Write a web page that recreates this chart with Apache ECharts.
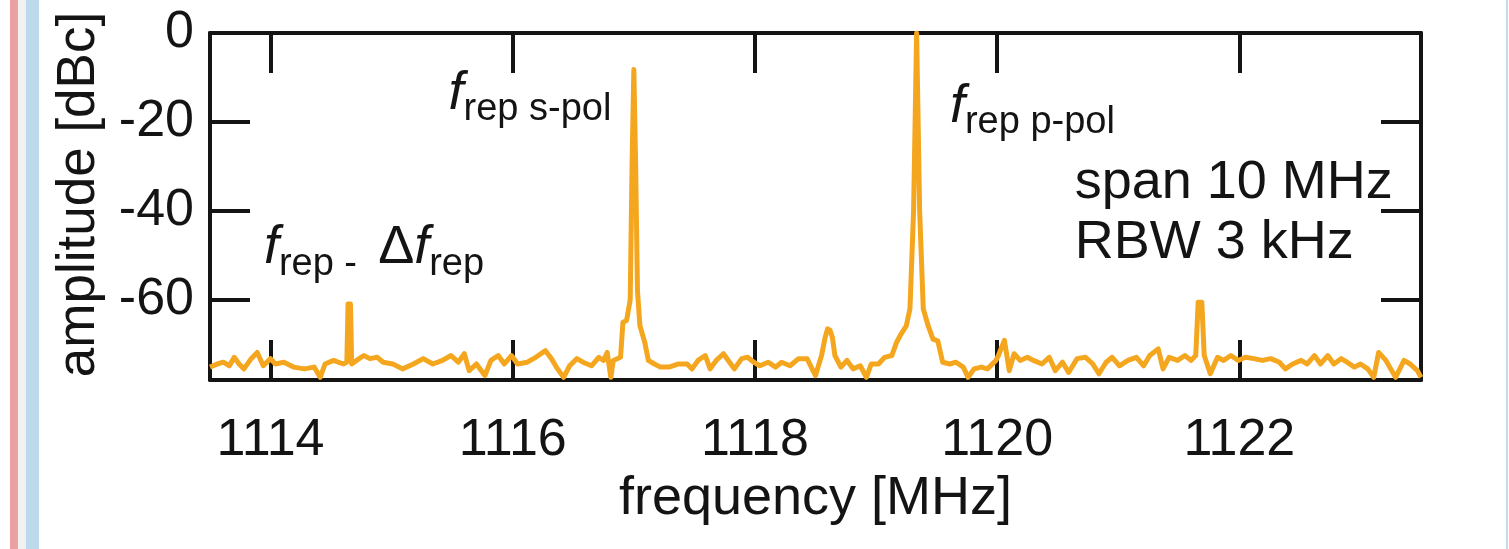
<!DOCTYPE html>
<html>
<head>
<meta charset="utf-8">
<script src="https://cdn.jsdelivr.net/npm/echarts@6/dist/echarts.min.js"></script>
<style>
  html, body { margin: 0; padding: 0; background: #ffffff; }
  #chart { width: 1509px; height: 549px; }
</style>
</head>
<body>
<div id="chart"></div>
<script>
// ---- data ----
const freq = [
  1113.50, 1113.56, 1113.61, 1113.66, 1113.70, 1113.74, 1113.78, 1113.84, 1113.89, 1113.94,
  1114.00, 1114.04, 1114.11, 1114.19, 1114.28, 1114.36, 1114.41, 1114.45, 1114.52, 1114.60,
  1114.63, 1114.64, 1114.66, 1114.67, 1114.71, 1114.77, 1114.82, 1114.88, 1114.93, 1115.01,
  1115.09, 1115.18, 1115.26, 1115.34, 1115.42, 1115.49, 1115.55, 1115.60, 1115.64, 1115.70,
  1115.77, 1115.82, 1115.88, 1115.93, 1115.99, 1116.04, 1116.12, 1116.19, 1116.27, 1116.32,
  1116.36, 1116.42, 1116.47, 1116.53, 1116.58, 1116.65, 1116.71, 1116.75, 1116.78, 1116.81,
  1116.83, 1116.89, 1116.91, 1116.94, 1116.97, 1116.985, 1117.00, 1117.015, 1117.03, 1117.05,
  1117.09, 1117.12, 1117.17, 1117.22, 1117.29, 1117.37, 1117.44, 1117.48, 1117.53, 1117.59,
  1117.63, 1117.68, 1117.74, 1117.79, 1117.83, 1117.89, 1117.94, 1117.99, 1118.04, 1118.11,
  1118.17, 1118.22, 1118.29, 1118.36, 1118.43, 1118.50, 1118.55, 1118.58, 1118.60, 1118.62,
  1118.64, 1118.66, 1118.71, 1118.76, 1118.81, 1118.87, 1118.92, 1118.96, 1119.02, 1119.07,
  1119.13, 1119.17, 1119.21, 1119.25, 1119.28, 1119.31, 1119.335, 1119.36, 1119.39, 1119.43,
  1119.47, 1119.51, 1119.55, 1119.61, 1119.66, 1119.72, 1119.76, 1119.81, 1119.87, 1119.92,
  1119.99, 1120.01, 1120.06, 1120.10, 1120.14, 1120.19, 1120.25, 1120.30, 1120.37, 1120.43,
  1120.48, 1120.54, 1120.59, 1120.66, 1120.73, 1120.79, 1120.84, 1120.90, 1120.95, 1121.01,
  1121.08, 1121.15, 1121.21, 1121.26, 1121.33, 1121.37, 1121.42, 1121.49, 1121.55, 1121.60,
  1121.64, 1121.66, 1121.69, 1121.71, 1121.76, 1121.82, 1121.87, 1121.93, 1121.99, 1122.05,
  1122.12, 1122.19, 1122.26, 1122.33, 1122.38, 1122.44, 1122.51, 1122.56, 1122.62, 1122.67,
  1122.73, 1122.78, 1122.84, 1122.89, 1122.95, 1123.00, 1123.06, 1123.11, 1123.15, 1123.21,
  1123.25, 1123.29, 1123.36, 1123.41, 1123.47, 1123.50
];
const amp = [
  -75.1, -74.4, -74.0, -74.8, -72.9, -74.4, -75.5, -73.2, -71.8, -74.8,
  -73.2, -74.4, -74.0, -75.1, -75.5, -75.1, -77.4, -74.4, -73.6, -74.4,
  -74.0, -60.9, -60.9, -74.4, -73.6, -72.5, -73.2, -72.9, -74.0, -74.4,
  -75.5, -74.4, -73.2, -74.4, -73.6, -72.5, -74.0, -72.1, -75.9, -74.4,
  -77.0, -73.6, -72.5, -74.4, -72.5, -74.4, -74.0, -72.9, -71.4, -73.2,
  -75.1, -77.4, -74.8, -73.2, -74.0, -74.8, -72.9, -73.6, -71.8, -77.4,
  -73.6, -72.9, -65.0, -64.6, -60.0, -30.0, -8.2, -30.0, -58.0, -65.8,
  -69.5, -73.6, -74.4, -75.1, -75.1, -74.4, -74.4, -75.5, -73.6, -72.5,
  -75.5, -73.6, -72.1, -74.0, -75.5, -73.2, -72.9, -74.0, -74.8, -74.0,
  -75.1, -74.0, -74.8, -73.2, -73.2, -77.0, -72.5, -68.4, -66.5, -66.8,
  -68.5, -72.5, -75.1, -73.6, -75.5, -74.8, -77.4, -74.4, -74.4, -72.9,
  -72.5, -69.5, -67.5, -65.8, -62.0, -40.0, 0.0, -40.0, -62.0, -65.8,
  -68.8, -69.2, -74.0, -74.4, -74.0, -75.1, -77.4, -75.5, -75.1, -75.5,
  -73.6, -72.5, -69.1, -75.9, -72.1, -73.6, -72.9, -73.6, -74.4, -72.9,
  -75.9, -74.0, -76.3, -73.2, -72.9, -74.4, -76.6, -74.0, -72.9, -74.8,
  -73.6, -72.9, -74.8, -72.5, -71.0, -75.5, -72.9, -73.6, -72.5, -73.6,
  -72.5, -60.5, -60.5, -72.5, -76.6, -72.9, -73.6, -72.5, -73.6, -72.9,
  -73.2, -73.6, -73.2, -74.0, -75.5, -74.4, -73.6, -74.4, -72.5, -74.4,
  -72.5, -74.4, -73.2, -74.0, -75.1, -74.4, -75.5, -77.4, -71.8, -73.6,
  -75.5, -77.4, -73.6, -74.4, -75.9, -77.4
];
const xTicks = [1114, 1116, 1118, 1120, 1122];
const yTicks = [0, -20, -40, -60];
const xRange = [1113.5, 1123.5];
const yRange = [-78, 0];

// ---- chart ----
const FONT = '"Liberation Sans", Arial, Helvetica, sans-serif';
const INK = '#141414';
const points = freq.map((f, i) => [f, amp[i]]);

const fracRich = {
  f: { fontFamily: FONT, fontStyle: 'italic', fontSize: 54, lineHeight: 54, padding: [0, 0, 8, 0], verticalAlign: 'bottom', color: INK },
  n: { fontFamily: FONT, fontSize: 54, lineHeight: 54, padding: [0, 0, 8, 0], verticalAlign: 'bottom', color: INK },
  s: { fontFamily: FONT, fontSize: 38, lineHeight: 38, verticalAlign: 'bottom', color: INK },
  t: { fontFamily: FONT, fontSize: 54, lineHeight: 60, color: INK }
};
function note(coord, text) {
  return {
    coord: coord,
    symbol: 'circle', symbolSize: 0,
    label: { show: true, position: [0, 0], align: 'left', verticalAlign: 'bottom', formatter: text, rich: fracRich }
  };
}

const axisCommon = {
  type: 'value',
  splitLine: { show: false },
  axisLine: { show: true, onZero: false, lineStyle: { color: INK, width: 4 } },
  axisTick: { show: true, inside: true, length: 40, lineStyle: { color: INK, width: 4 } }
};
const plain = v => String(v);

const chart = echarts.init(document.getElementById('chart'), null, { renderer: 'canvas' });
chart.setOption({
  backgroundColor: '#ffffff',
  animation: false,
  grid: { left: 210, right: 88, top: 33, bottom: 169 },
  graphic: [
    { type: 'rect', left: 10, top: 0, shape: { width: 8, height: 549 }, style: { fill: '#e9a1a4' }, silent: true },
    { type: 'rect', left: 18, top: 0, shape: { width: 8, height: 549 }, style: { fill: '#f1f1f1' }, silent: true },
    { type: 'rect', left: 26, top: 0, shape: { width: 13, height: 549 }, style: { fill: '#bddaec' }, silent: true },
    { type: 'rect', left: 1506, top: 0, shape: { width: 2, height: 549 }, style: { fill: '#c3dbeb' }, silent: true }
  ],
  xAxis: [
    Object.assign({}, axisCommon, {
      position: 'bottom', min: xRange[0], max: xRange[1],
      axisTick: Object.assign({}, axisCommon.axisTick, { customValues: xTicks }),
      axisLabel: { customValues: xTicks, formatter: plain, fontFamily: FONT, fontSize: 52, color: INK, margin: 35 },
      name: 'frequency [MHz]', nameLocation: 'middle', nameGap: 86,
      nameTextStyle: { fontFamily: FONT, fontSize: 54, color: INK }
    }),
    Object.assign({}, axisCommon, {
      position: 'top', min: xRange[0], max: xRange[1],
      axisTick: Object.assign({}, axisCommon.axisTick, { customValues: xTicks }),
      axisLabel: { show: false }
    })
  ],
  yAxis: [
    Object.assign({}, axisCommon, {
      position: 'left', min: yRange[0], max: yRange[1],
      axisTick: Object.assign({}, axisCommon.axisTick, { customValues: yTicks }),
      axisLabel: { customValues: yTicks, formatter: plain, fontFamily: FONT, fontSize: 52, color: INK, margin: 16 },
      name: 'amplitude [dBc]', nameLocation: 'middle', nameGap: 104,
      nameTextStyle: { fontFamily: FONT, fontSize: 53, color: INK, padding: [0, 0, 0, 24] }
    }),
    Object.assign({}, axisCommon, {
      position: 'right', min: yRange[0], max: yRange[1],
      axisTick: Object.assign({}, axisCommon.axisTick, { customValues: yTicks }),
      axisLabel: { show: false }
    })
  ],
  series: [{
    type: 'line',
    data: points,
    showSymbol: false,
    symbol: 'none',
    lineStyle: { color: '#f5a61f', width: 5, join: 'round' },
    z: 1,
    markPoint: {
      silent: true,
      animation: false,
      data: [
        note([1115.47, -21.5], '{f|f}{s|rep s-pol}'),
        note([1119.61, -24.5], '{f|f}{s|rep p-pol}'),
        note([1113.945, -56.2], '{f|f}{s|rep -  }{n|Δ}{f|f}{s|rep}'),
        note([1120.64, -54.0], '{t|span 10 MHz}\n{t|RBW 3 kHz}')
      ]
    }
  }]
});
</script>
</body>
</html>
